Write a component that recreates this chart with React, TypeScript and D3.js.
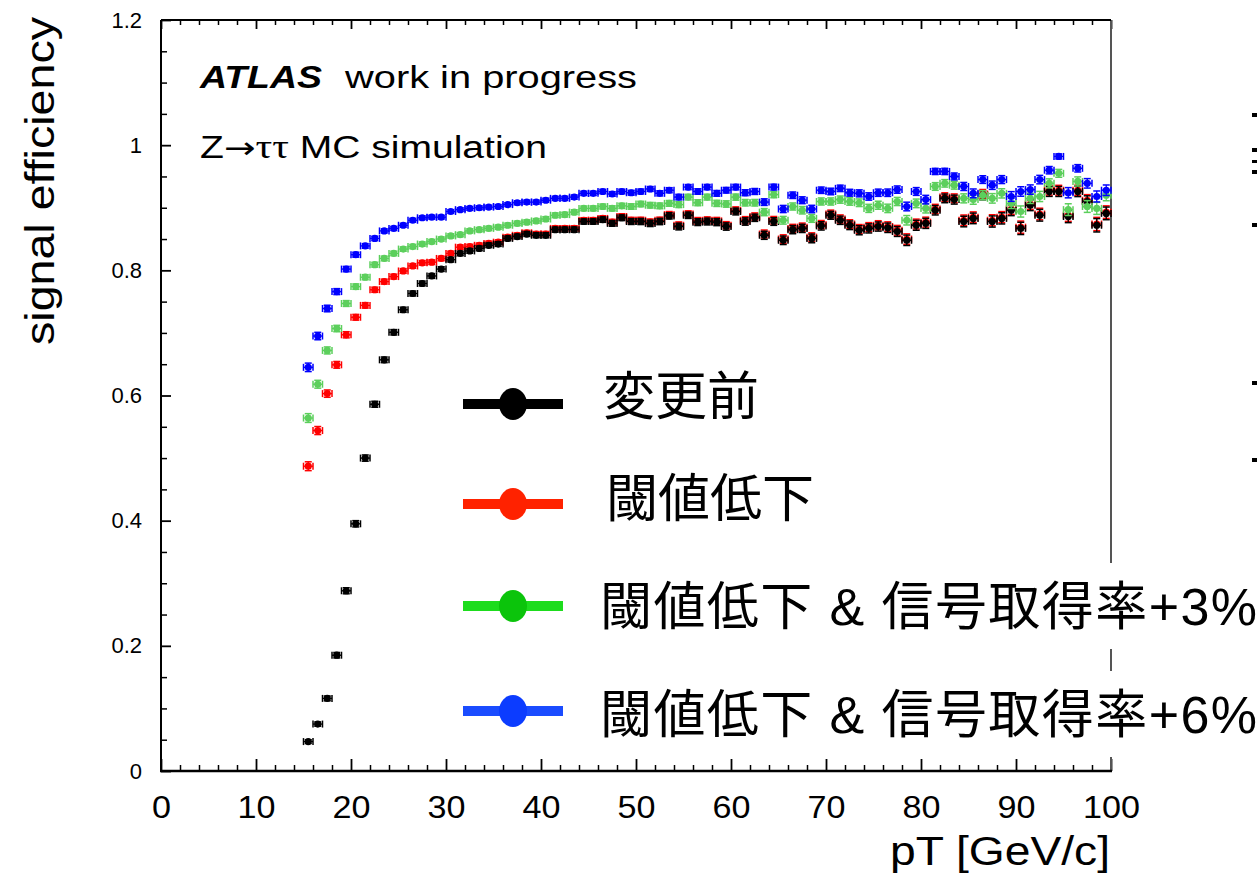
import React, { useEffect, useRef } from "react";
import * as d3 from "d3";

// pT bin centers [GeV/c], 1 GeV bins from 15 to 100
const ptBins = [
  15.5, 16.5, 17.5, 18.5, 19.5, 20.5, 21.5, 22.5, 23.5, 24.5,
  25.5, 26.5, 27.5, 28.5, 29.5, 30.5, 31.5, 32.5, 33.5, 34.5,
  35.5, 36.5, 37.5, 38.5, 39.5, 40.5, 41.5, 42.5, 43.5, 44.5,
  45.5, 46.5, 47.5, 48.5, 49.5, 50.5, 51.5, 52.5, 53.5, 54.5,
  55.5, 56.5, 57.5, 58.5, 59.5, 60.5, 61.5, 62.5, 63.5, 64.5,
  65.5, 66.5, 67.5, 68.5, 69.5, 70.5, 71.5, 72.5, 73.5, 74.5,
  75.5, 76.5, 77.5, 78.5, 79.5, 80.5, 81.5, 82.5, 83.5, 84.5,
  85.5, 86.5, 87.5, 88.5, 89.5, 90.5, 91.5, 92.5, 93.5, 94.5,
  95.5, 96.5, 97.5, 98.5, 99.5,
];

// MC entries per bin (denominator used for the binomial errors)
const binEntries = [
  5000, 6000, 7000, 7900, 8700, 9400, 10000, 10500, 10900, 11200,
  11400, 11500, 11500, 11400, 11200, 11000, 10700, 10400, 10100, 9800,
  9500, 9100, 8700, 8300, 7900, 7500, 7200, 6900, 6600, 6300,
  6000, 5700, 5400, 5100, 4800, 4500, 4350, 4200, 4050, 3900,
  3800, 3680, 3560, 3440, 3320, 3200, 3120, 3040, 2960, 2880,
  2800, 2740, 2680, 2620, 2560, 2500, 2420, 2340, 2260, 2180,
  2100, 2020, 1940, 1860, 1780, 1700, 1650, 1600, 1550, 1500,
  1450, 1400, 1350, 1300, 1250, 1200, 1170, 1140, 1110, 1080,
  1050, 1025, 1000, 975, 950,
];

// 変更前
const effBefore = [
  0.047, 0.075, 0.116, 0.185, 0.288, 0.395, 0.5, 0.586, 0.657, 0.701,
  0.737, 0.763, 0.779, 0.791, 0.802, 0.817, 0.827, 0.831, 0.835, 0.84,
  0.842, 0.851, 0.854, 0.858, 0.856, 0.856, 0.865, 0.865, 0.865, 0.878,
  0.878, 0.881, 0.875, 0.884, 0.878, 0.878, 0.875, 0.878, 0.887, 0.87,
  0.888, 0.877, 0.878, 0.877, 0.87, 0.894, 0.878, 0.884, 0.856, 0.878,
  0.848, 0.865, 0.867, 0.851, 0.871, 0.888, 0.88, 0.872, 0.864, 0.867,
  0.87, 0.868, 0.862, 0.848, 0.872, 0.875, 0.896, 0.915, 0.913, 0.878,
  0.883, 0.92, 0.878, 0.883, 0.896, 0.867, 0.904, 0.888, 0.926, 0.926,
  0.886, 0.926, 0.91, 0.872, 0.891,
];

// 閾値低下
const effLowThr = [
  0.487, 0.544, 0.603, 0.649, 0.697, 0.725, 0.744, 0.769, 0.782, 0.79,
  0.799, 0.807, 0.812, 0.813, 0.819, 0.827, 0.837, 0.838, 0.84, 0.843,
  0.845, 0.853, 0.856, 0.86, 0.858, 0.858, 0.867, 0.867, 0.867, 0.88,
  0.88, 0.883, 0.877, 0.886, 0.88, 0.88, 0.877, 0.88, 0.889, 0.872,
  0.89, 0.879, 0.88, 0.879, 0.872, 0.896, 0.88, 0.886, 0.858, 0.88,
  0.85, 0.867, 0.869, 0.853, 0.873, 0.89, 0.882, 0.874, 0.866, 0.869,
  0.872, 0.87, 0.864, 0.85, 0.874, 0.877, 0.898, 0.917, 0.915, 0.88,
  0.885, 0.922, 0.88, 0.885, 0.898, 0.869, 0.906, 0.89, 0.928, 0.928,
  0.888, 0.928, 0.912, 0.874, 0.893,
];

// 閾値低下 & 信号取得率+3%
const effPlus3 = [
  0.564, 0.618, 0.672, 0.707, 0.747, 0.774, 0.789, 0.809, 0.819, 0.827,
  0.834, 0.838, 0.842, 0.846, 0.85, 0.855, 0.857, 0.863, 0.865, 0.867,
  0.869, 0.872, 0.875, 0.877, 0.879, 0.882, 0.888, 0.889, 0.893, 0.899,
  0.899, 0.902, 0.899, 0.903, 0.902, 0.906, 0.904, 0.903, 0.907, 0.905,
  0.917, 0.908, 0.917, 0.907, 0.906, 0.917, 0.908, 0.908, 0.893, 0.921,
  0.88, 0.902, 0.896, 0.883, 0.91, 0.91, 0.913, 0.91, 0.908, 0.899,
  0.904, 0.899, 0.91, 0.88, 0.907, 0.899, 0.934, 0.939, 0.936, 0.915,
  0.913, 0.92, 0.915, 0.923, 0.907, 0.894, 0.915, 0.918, 0.939, 0.955,
  0.897, 0.942, 0.902, 0.899, 0.92,
];

// 閾値低下 & 信号取得率+6%
const effPlus6 = [
  0.645, 0.695, 0.739, 0.766, 0.802, 0.825, 0.839, 0.851, 0.863, 0.867,
  0.872, 0.88, 0.884, 0.885, 0.885, 0.894, 0.897, 0.899, 0.9, 0.901,
  0.902, 0.905, 0.908, 0.909, 0.909, 0.912, 0.915, 0.915, 0.917, 0.923,
  0.923, 0.926, 0.922, 0.926, 0.924, 0.926, 0.93, 0.923, 0.928, 0.917,
  0.933, 0.926, 0.933, 0.923, 0.928, 0.933, 0.924, 0.926, 0.909, 0.933,
  0.898, 0.92, 0.912, 0.898, 0.928, 0.926, 0.931, 0.924, 0.923, 0.918,
  0.924, 0.924, 0.929, 0.902, 0.926, 0.913, 0.958, 0.958, 0.95, 0.934,
  0.923, 0.945, 0.936, 0.945, 0.918, 0.926, 0.929, 0.945, 0.96, 0.982,
  0.924, 0.963, 0.939, 0.918, 0.928,
];

const legendLabels = [
  "変更前",
  "閾値低下",
  "閾値低下 & 信号取得率+3%",
  "閾値低下 & 信号取得率+6%",
];

const xTickLabels = [0, 10, 20, 30, 40, 50, 60, 70, 80, 90, 100];
const yTickLabels = [0, 0.2, 0.4, 0.6, 0.8, 1, 1.2];

const W = 1257;
const H = 874;
const left = 161;
const right = 1111;
const top = 20;
const bottom = 771;

const latin = "'Liberation Sans', Arial, Helvetica, sans-serif";
const cjk = "'Liberation Sans', 'Noto Sans CJK JP', sans-serif";

const App: React.FC = () => {
  const svgRef = useRef<SVGSVGElement>(null);

  useEffect(() => {
    if (!svgRef.current) return;
    const svg = d3.select(svgRef.current);
    svg.selectAll("*").remove();

    const x = d3.scaleLinear().domain([0, 100]).range([left, right]);
    const y = d3.scaleLinear().domain([0, 1.2]).range([bottom, top]);

    // series: drawing order red, black, green, blue (black sits on top of red)
    const series = [
      { values: effLowThr, color: "#ff0000" },
      { values: effBefore, color: "#000000" },
      { values: effPlus3, color: "#5ccf5c" },
      { values: effPlus6, color: "#0000ff" },
    ];

    // ---- axes ticks ----
    const minorX = d3.range(0, 100.01, 2).filter((v) => v % 10 !== 0);
    const minorY = d3.range(0, 1.2001, 0.05).filter((v) => Math.abs(v * 5 - Math.round(v * 5)) > 1e-6);

    const styleTicks = (g: any, w: number) => {
      g.select(".domain").remove();
      g.selectAll(".tick line").attr("stroke", "#000").attr("stroke-width", w);
    };

    // bottom
    svg
      .append("g")
      .attr("transform", `translate(0,${bottom})`)
      .call(d3.axisBottom(x).tickValues(minorX).tickSizeInner(-6).tickSizeOuter(0).tickFormat(() => ""))
      .call((g) => styleTicks(g, 1.5));
    svg
      .append("g")
      .attr("transform", `translate(0,${bottom})`)
      .call(d3.axisBottom(x).tickValues(xTickLabels).tickSizeInner(-12).tickSizeOuter(0).tickPadding(25).tickFormat(d3.format("d")))
      .call((g) => styleTicks(g, 1.8))
      .call((g) =>
        g
          .selectAll("text")
          .attr("fill", "#000")
          .attr("font-family", latin)
          .attr("font-size", 31)
          .attr("textLength", (d: any) => String(d).length * 19)
          .attr("lengthAdjust", "spacingAndGlyphs")
      );

    // top
    svg
      .append("g")
      .attr("transform", `translate(0,${top})`)
      .call(d3.axisTop(x).tickValues(minorX).tickSizeInner(-5).tickSizeOuter(0).tickFormat(() => ""))
      .call((g) => styleTicks(g, 1.5));
    svg
      .append("g")
      .attr("transform", `translate(0,${top})`)
      .call(d3.axisTop(x).tickValues(xTickLabels).tickSizeInner(-9).tickSizeOuter(0).tickFormat(() => ""))
      .call((g) => styleTicks(g, 1.8));

    // left
    svg
      .append("g")
      .attr("transform", `translate(${left},0)`)
      .call(d3.axisLeft(y).tickValues(minorY).tickSizeInner(-6).tickSizeOuter(0).tickFormat(() => ""))
      .call((g) => styleTicks(g, 1.5));
    svg
      .append("g")
      .attr("transform", `translate(${left},0)`)
      .call(d3.axisLeft(y).tickValues(yTickLabels).tickSizeInner(-10).tickSizeOuter(0).tickPadding(19).tickFormat(d3.format("~g")))
      .call((g) => styleTicks(g, 1.8))
      .call((g) =>
        g
          .selectAll("text")
          .attr("fill", "#000")
          .attr("font-family", latin)
          .attr("font-size", 22)
      );

    // ---- frame ----
    svg.append("line").attr("x1", right).attr("x2", right).attr("y1", top).attr("y2", bottom)
      .attr("stroke", "#555").attr("stroke-width", 2);
    svg.append("line").attr("x1", left).attr("x2", right).attr("y1", top).attr("y2", top)
      .attr("stroke", "#000").attr("stroke-width", 2);
    svg.append("line").attr("x1", left).attr("x2", left).attr("y1", top).attr("y2", bottom)
      .attr("stroke", "#000").attr("stroke-width", 2);
    svg.append("line").attr("x1", left - 1).attr("x2", right + 1).attr("y1", bottom).attr("y2", bottom)
      .attr("stroke", "#000").attr("stroke-width", 2.5);

    // ---- data points with error bars ----
    const cap = 3.5;
    series.forEach((s) => {
      const g = svg.append("g").attr("stroke", s.color).attr("fill", s.color);
      s.values.forEach((e, i) => {
        const c = ptBins[i];
        const err = Math.sqrt((e * (1 - e)) / binEntries[i]);
        const cx = x(c);
        const cy = y(e);
        const yHi = y(e + err);
        const yLo = y(e - err);
        const xL = x(c - 0.5);
        const xR = x(c + 0.5);
        g.append("line").attr("x1", cx).attr("x2", cx).attr("y1", yHi).attr("y2", yLo).attr("stroke-width", 1.3);
        g.append("line").attr("x1", cx - cap).attr("x2", cx + cap).attr("y1", yHi).attr("y2", yHi).attr("stroke-width", 1.5);
        g.append("line").attr("x1", cx - cap).attr("x2", cx + cap).attr("y1", yLo).attr("y2", yLo).attr("stroke-width", 1.5);
        g.append("line").attr("x1", xL).attr("x2", xR).attr("y1", cy).attr("y2", cy).attr("stroke-width", 1.3);
        g.append("line").attr("x1", xL).attr("x2", xL).attr("y1", cy - cap).attr("y2", cy + cap).attr("stroke-width", 1.5);
        g.append("line").attr("x1", xR).attr("x2", xR).attr("y1", cy - cap).attr("y2", cy + cap).attr("stroke-width", 1.5);
        g.append("circle").attr("cx", cx).attr("cy", cy).attr("r", 3.6).attr("stroke", "none");
      });
    });

    // ---- labels ----
    const atlas = svg.append("g").attr("font-family", latin).attr("fill", "#000");
    atlas.append("text").attr("x", 200).attr("y", 88).attr("font-size", 31)
      .attr("font-weight", "bold").attr("font-style", "italic")
      .attr("textLength", 122).attr("lengthAdjust", "spacingAndGlyphs").text("ATLAS");
    atlas.append("text").attr("x", 345).attr("y", 88).attr("font-size", 31)
      .attr("textLength", 292).attr("lengthAdjust", "spacingAndGlyphs").text("work in progress");
    const z = atlas.append("text").attr("x", 200).attr("y", 158).attr("font-size", 31)
      .attr("textLength", 347).attr("lengthAdjust", "spacingAndGlyphs");
    z.append("tspan").text("Z");
    z.append("tspan").attr("font-family", "'DejaVu Sans', sans-serif").attr("font-size", 30).text("→");
    z.append("tspan").attr("font-family", "'Liberation Serif', serif").attr("font-size", 33).text("ττ");
    z.append("tspan").text(" MC simulation");

    svg.append("text").attr("transform", "translate(54,181) rotate(-90)")
      .attr("text-anchor", "middle").attr("font-family", latin).attr("font-size", 40)
      .attr("textLength", 328).attr("lengthAdjust", "spacingAndGlyphs")
      .attr("fill", "#000").text("signal efficiency");

    svg.append("text").attr("x", 890).attr("y", 865)
      .attr("font-family", latin).attr("font-size", 41)
      .attr("textLength", 220).attr("lengthAdjust", "spacingAndGlyphs")
      .attr("fill", "#000").text("pT [GeV/c]");

    // ---- legend ----
    const legendLine = ["#000000", "#ff2200", "#1ddc1d", "#1a4cff"];
    const legendDot = ["#000000", "#ff2200", "#0bc40b", "#0c3cff"];
    const lineY = [404, 504, 606, 711];
    const textY = [395, 497, 605, 713];
    const textX = [603, 606, 600, 600];
    const textLen = [0, 0, 657, 657];
    legendLabels.forEach((label, i) => {
      const g = svg.append("g");
      g.append("line").attr("x1", 463).attr("x2", 563).attr("y1", lineY[i]).attr("y2", lineY[i])
        .attr("stroke", legendLine[i]).attr("stroke-width", 10);
      g.append("ellipse").attr("cx", 513).attr("cy", lineY[i]).attr("rx", 14).attr("ry", 16)
        .attr("fill", legendDot[i]);
      const box = g.append("rect").attr("fill", "#fff");
      const t = g.append("text").attr("x", textX[i]).attr("y", textY[i] + 20)
        .attr("font-family", cjk).attr("font-size", 52).attr("fill", "#000").text(label);
      if (textLen[i]) t.attr("textLength", textLen[i]).attr("lengthAdjust", "spacing");
      const len = textLen[i] || (t.node() as SVGTextElement).getComputedTextLength();
      box.attr("x", textX[i] - 4).attr("y", textY[i] - 42).attr("width", len + 8).attr("height", 86);
    });

    // edge of the neighbouring plot at the far right
    [113, 148, 223, 381, 458].forEach((yy) => {
      svg.append("rect").attr("x", 1252).attr("y", yy).attr("width", 6).attr("height", 4).attr("fill", "#000");
    });
    svg.append("rect").attr("x", 1252).attr("y", 160).attr("width", 6).attr("height", 3).attr("fill", "#000");
    svg.append("rect").attr("x", 1252).attr("y", 170).attr("width", 6).attr("height", 4).attr("fill", "#000");
  }, []);

  return (
    <svg
      ref={svgRef}
      width={W}
      height={H}
      style={{ position: "absolute", left: 0, top: 0, background: "#fff" }}
    />
  );
};

export default App;
